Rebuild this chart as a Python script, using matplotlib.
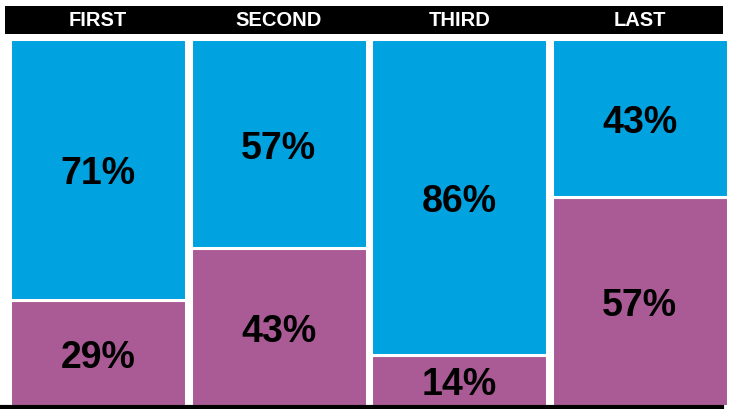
import matplotlib.pyplot as plt
from matplotlib.patches import Rectangle
from matplotlib.lines import Line2D

plt.rcParams['font.family'] = ['Liberation Sans', 'DejaVu Sans']

categories = ['FIRST', 'SECOND', 'THIRD', 'LAST']
top_share = [71, 57, 86, 43]
bottom_share = [29, 43, 14, 57]

blue = '#00A2E0'
purple = '#AA5B95'

W, H = 730, 410
fig = plt.figure(figsize=(W / 100, H / 100), dpi=100)
ax = fig.add_axes([8 / W, 3 / H, 722 / W, 367 / H])

x = range(len(categories))
width = 0.975
ax.bar(x, bottom_share, width=width, color=purple, edgecolor='white', linewidth=2.2)
ax.bar(x, top_share, width=width, bottom=bottom_share, color=blue, edgecolor='white', linewidth=2.2)

for i in x:
    ax.text(i, bottom_share[i] / 2, f'{bottom_share[i]}%', ha='center', va='center_baseline',
            fontsize=27, fontweight='bold', color='black')
    ax.text(i, bottom_share[i] + top_share[i] / 2, f'{top_share[i]}%', ha='center',
            va='center_baseline', fontsize=27, fontweight='bold', color='black')

ax.set_xlim(-0.5, 3.5)
ax.set_ylim(0, 100)
ax.axis('off')

# header band with category names
fig.add_artist(Rectangle((5 / W, 375 / H), 718 / W, 28 / H, transform=fig.transFigure,
                         facecolor='black', edgecolor='none'))
for i, name in enumerate(categories):
    xc = (8 + 722 * (i + 0.5) / 4) / W
    fig.text(xc, 389 / H, name, ha='center', va='center', color='white',
             fontsize=14.5, fontweight='bold')

# baseline
fig.add_artist(Line2D([0, 722 / W], [2.5 / H, 2.5 / H], transform=fig.transFigure,
                      color='black', linewidth=3))

fig.savefig('out.png', dpi=100)
